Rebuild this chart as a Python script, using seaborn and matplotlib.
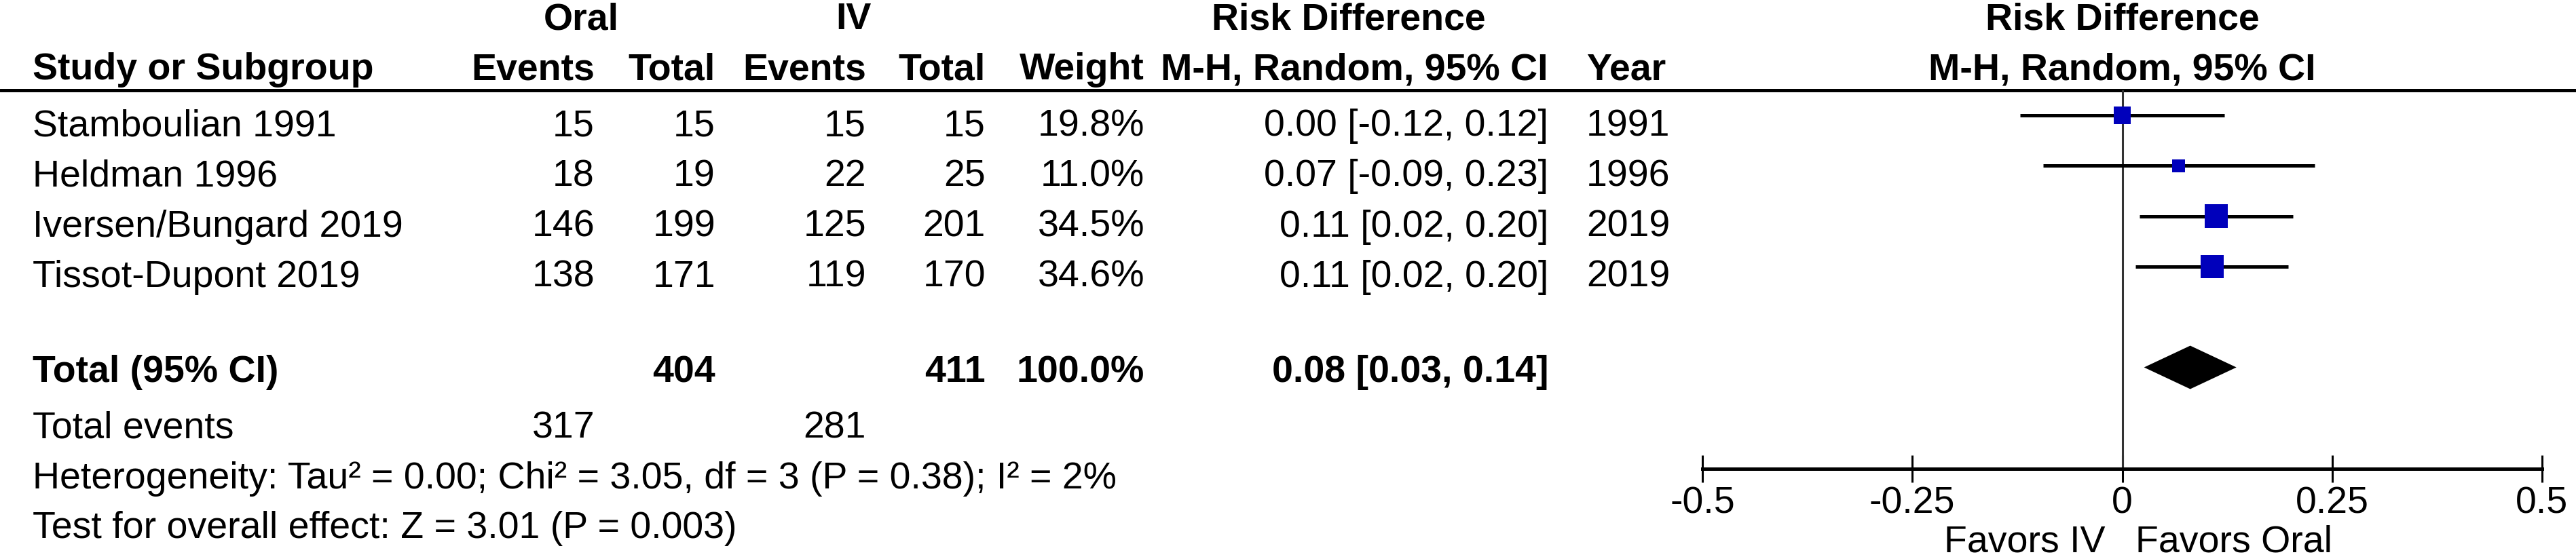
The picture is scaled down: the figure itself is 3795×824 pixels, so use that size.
import numpy as np
import matplotlib
matplotlib.use("Agg")
import matplotlib.pyplot as plt
import matplotlib.transforms as mtransforms
import seaborn as sns

# study data
studies = ["Stamboulian 1991", "Heldman 1996", "Iversen/Bungard 2019", "Tissot-Dupont 2019"]
oral_events = [15, 18, 146, 138]
oral_total = [15, 19, 199, 171]
iv_events = [15, 22, 125, 119]
iv_total = [15, 25, 201, 170]
weights = [19.8, 11.0, 34.5, 34.6]
rd = [0.000, 0.067, 0.112, 0.107]
ci_lo = [-0.122, -0.094, 0.021, 0.016]
ci_hi = [0.122, 0.229, 0.203, 0.198]
years = [1991, 1996, 2019, 2019]

# pooled estimate
total_weight = 100.0
total_rd = 0.081
total_lo = 0.026
total_hi = 0.136
heterogeneity = "Heterogeneity: Tau\u00b2 = 0.00; Chi\u00b2 = 3.05, df = 3 (P = 0.38); I\u00b2 = 2%"
overall = "Test for overall effect: Z = 3.01 (P = 0.003)"

x_ticks = [-0.5, -0.25, 0, 0.25, 0.5]
x_tick_labels = ["-0.5", "-0.25", "0", "0.25", "0.5"]

W, H = 3795, 824
FS = 40
ROW0 = 200      # baseline of first study row (px)
ROW_H = 74.3    # row spacing (px)
SQ_K = 17.64    # marker area per % weight

sns.set_theme(style="white")
plt.rcParams['font.family'] = ['Liberation Sans', 'DejaVu Sans']

fig = plt.figure(figsize=(W / 100, H / 100), dpi=100)

# table layer in pixel coordinates
tab = fig.add_axes([0, 0, 1, 1])
tab.set_xlim(0, W)
tab.set_ylim(H, 0)
tab.axis('off')

# forest plot axis
ax = fig.add_axes([2508 / W, (H - 691) / H, 1237 / W, (691 - 133) / H])
ax.patch.set_alpha(0)

row_y = np.arange(len(studies))
total_y = 5

ax.axvline(0, color='#333333', lw=2.2, zorder=1)
ax.hlines(row_y, ci_lo, ci_hi, color='black', lw=3.6, zorder=2)
sns.scatterplot(x=rd, y=row_y, size=weights,
                sizes=(SQ_K * min(weights), SQ_K * max(weights)),
                marker='s', color='#0000bb', linewidth=0,
                legend=False, ax=ax, zorder=3)
half = 0.43
ax.fill([total_lo, total_rd, total_hi, total_rd],
        [total_y, total_y - half, total_y, total_y + half],
        color='black', lw=0, zorder=3)

ax.set_xlim(-0.5, 0.5)
ax.set_ylim(7.012, -0.498)
ax.set_xticks(x_ticks)
ax.set_xticklabels(x_tick_labels)
ax.set_yticks([])
ax.set_xlabel('')
ax.set_ylabel('')
for s in ['top', 'left', 'right']:
    ax.spines[s].set_visible(False)
ax.spines['bottom'].set_linewidth(3.6)
ax.spines['bottom'].set_color('black')
ax.tick_params(axis='x', bottom=True, direction='inout', length=28.8, width=2.2,
               color='black', pad=4.3, labelsize=FS, labelcolor='black')

# header line
tab.axhline(133, color='black', lw=3.6)

bold = dict(fontsize=FS, fontweight='bold', color='black', va='baseline')
reg = dict(fontsize=FS, color='black', va='baseline')

# column anchors (px)
X_NAME = 48
X_OE, X_OT, X_IE, X_IT = 876, 1054, 1276, 1452
X_W, X_CI, X_YR = 1686, 2281, 2337

tab.text(856, 43, "Oral", ha='center', **bold)
tab.text(1257, 43, "IV", ha='center', **bold)
tab.text(1987, 43, "Risk Difference", ha='center', **bold)
tab.text(X_NAME, 117, "Study or Subgroup", ha='left', **bold)
tab.text(X_OE, 117, "Events", ha='right', **bold)
tab.text(X_OT, 117, "Total", ha='right', **bold)
tab.text(X_IE, 117, "Events", ha='right', **bold)
tab.text(X_IT, 117, "Total", ha='right', **bold)
tab.text(X_W, 117, "Weight", ha='right', **bold)
tab.text(X_CI, 117, "M-H, Random, 95% CI", ha='right', **bold)
tab.text(X_YR, 117, "Year", ha='left', **bold)

blend = mtransforms.blended_transform_factory(ax.transData, tab.transData)
ax.text(0, 43, "Risk Difference", ha='center', transform=blend, clip_on=False, **bold)
ax.text(0, 117, "M-H, Random, 95% CI", ha='center', transform=blend, clip_on=False, **bold)

for i, name in enumerate(studies):
    yb = ROW0 + ROW_H * i
    tab.text(X_NAME, yb, name, ha='left', **reg)
    tab.text(X_OE, yb, str(oral_events[i]), ha='right', **reg)
    tab.text(X_OT, yb, str(oral_total[i]), ha='right', **reg)
    tab.text(X_IE, yb, str(iv_events[i]), ha='right', **reg)
    tab.text(X_IT, yb, str(iv_total[i]), ha='right', **reg)
    tab.text(X_W, yb, f"{weights[i]:.1f}%", ha='right', **reg)
    tab.text(X_CI, yb, f"{rd[i]:.2f} [{ci_lo[i]:.2f}, {ci_hi[i]:.2f}]", ha='right', **reg)
    tab.text(X_YR, yb, str(years[i]), ha='left', **reg)

# total row
tab.text(X_NAME, 563, "Total (95% CI)", ha='left', **bold)
tab.text(X_OT, 563, str(sum(oral_total)), ha='right', **bold)
tab.text(X_IT, 563, str(sum(iv_total)), ha='right', **bold)
tab.text(X_W, 563, f"{total_weight:.1f}%", ha='right', **bold)
tab.text(X_CI, 563, f"{total_rd:.2f} [{total_lo:.2f}, {total_hi:.2f}]", ha='right', **bold)

tab.text(X_NAME, 645, "Total events", ha='left', **reg)
tab.text(X_OE, 645, str(sum(oral_events)), ha='right', **reg)
tab.text(X_IE, 645, str(sum(iv_events)), ha='right', **reg)
tab.text(X_NAME, 720, heterogeneity, ha='left', **reg)
tab.text(X_NAME, 793, overall, ha='left', **reg)

ax.text(-0.02, 814, "Favors IV", ha='right', transform=blend, clip_on=False, **reg)
ax.text(0.016, 814, "Favors Oral", ha='left', transform=blend, clip_on=False, **reg)

fig.savefig("out.png", dpi=100)
